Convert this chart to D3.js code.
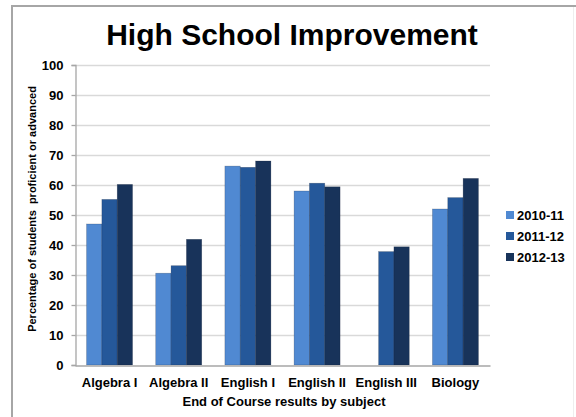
<!DOCTYPE html>
<html><head><meta charset="utf-8">
<script src="https://cdn.jsdelivr.net/npm/d3@7"></script>
<style>body{margin:0;background:#fff;}svg{display:block;font-family:"Liberation Sans",Arial,sans-serif;}</style>
</head><body>
<svg id="c" width="576" height="417"></svg>
<script>
const categories = ["Algebra I","Algebra II","English I","English II","English III","Biology"];
const seriesNames = ["2010-11","2011-12","2012-13"];
const s2010 = [47, 30.6, 66.3, 58, null, 52];
const s2011 = [55.2, 33.1, 65.9, 60.6, 37.8, 55.8];
const s2012 = [60.2, 41.9, 68, 59.4, 39.4, 62.2];
const yTicks = [0,10,20,30,40,50,60,70,80,90,100];
const colors = ["#5089d2","#25589a","#18335a"];
const series = [s2010, s2011, s2012];

const svg = d3.select("#c");
// frame
svg.append("line").attr("x1",12).attr("x2",12).attr("y1",5).attr("y2",417).attr("stroke","#a6a6a6").attr("stroke-width",2);
svg.append("line").attr("x1",11).attr("x2",576).attr("y1",6).attr("y2",6).attr("stroke","#a6a6a6").attr("stroke-width",2);
svg.append("line").attr("x1",573.5).attr("x2",573.5).attr("y1",7).attr("y2",417).attr("stroke","#eeeeee").attr("stroke-width",1);

svg.append("text").attr("x",292).attr("y",45).attr("text-anchor","middle")
  .attr("font-size",30).attr("font-weight","bold").attr("fill","#000").text("High School Improvement");

const x0 = d3.scaleBand().domain(categories).range([75,490]).paddingInner(0.335).paddingOuter(0.167);
const x1 = d3.scaleBand().domain(seriesNames).range([0,x0.bandwidth()]);
const y = d3.scaleLinear().domain([0,100]).range([365,65]);

// gridlines
svg.append("g").selectAll("line").data(yTicks.slice(1)).join("line")
  .attr("x1",75).attr("x2",490).attr("y1",d=>y(d)+0.5).attr("y2",d=>y(d)+0.5)
  .attr("stroke","#d9d9d9").attr("stroke-width",1.3);

// y axis
const yAxis = d3.axisLeft(y).tickValues(yTicks).tickSize(4).tickPadding(8).tickFormat(d3.format("d"));
const gy = svg.append("g").attr("transform","translate(75.5,0)").call(yAxis);
gy.select(".domain").attr("stroke","#a6a6a6").attr("stroke-width",1.3);
gy.selectAll(".tick line").attr("stroke","#a6a6a6").attr("stroke-width",1.3);
gy.selectAll(".tick text").attr("font-size",13).attr("font-weight","bold").attr("fill","#000")
  .attr("font-family","'Liberation Sans',Arial,sans-serif");

// bars
const g = svg.append("g");
categories.forEach((c,i)=>{
  series.forEach((s,j)=>{
    if (s[i]==null) return;
    g.append("rect").attr("x",x0(c)+x1(seriesNames[j])).attr("y",y(s[i]))
      .attr("width",x1.bandwidth()).attr("height",y(0)-y(s[i]))
      .attr("fill",colors[j]).attr("stroke","rgba(20,30,50,0.35)").attr("stroke-width",0.6);
  });
});

// x axis
const xAxis = d3.axisBottom(x0).tickSize(0).tickPadding(12);
const gx = svg.append("g").attr("transform","translate(0,365.5)").call(xAxis);
gx.select(".domain").attr("stroke","#a6a6a6").attr("stroke-width",1.3);
gx.selectAll(".tick text").attr("font-size",13).attr("font-weight","bold").attr("fill","#000")
  .attr("font-family","'Liberation Sans',Arial,sans-serif");

// axis titles
svg.append("text").attr("x",284).attr("y",406).attr("text-anchor","middle")
  .attr("font-size",13).attr("font-weight","bold").text("End of Course results by subject");
svg.append("text").attr("transform","translate(36,209) rotate(-90)").attr("text-anchor","middle")
  .attr("font-size",11).attr("font-weight","bold").attr("xml:space","preserve")
  .text("Percentage of students  proficient or advanced");

// legend
const lg = svg.append("g");
seriesNames.forEach((n,j)=>{
  const yy = 215 + j*21;
  lg.append("rect").attr("x",506).attr("y",yy-4).attr("width",8).attr("height",8).attr("fill",colors[j]);
  lg.append("text").attr("x",517).attr("y",yy+4.5).attr("font-size",13).attr("font-weight","bold").text(n);
});
</script>
</body></html>
